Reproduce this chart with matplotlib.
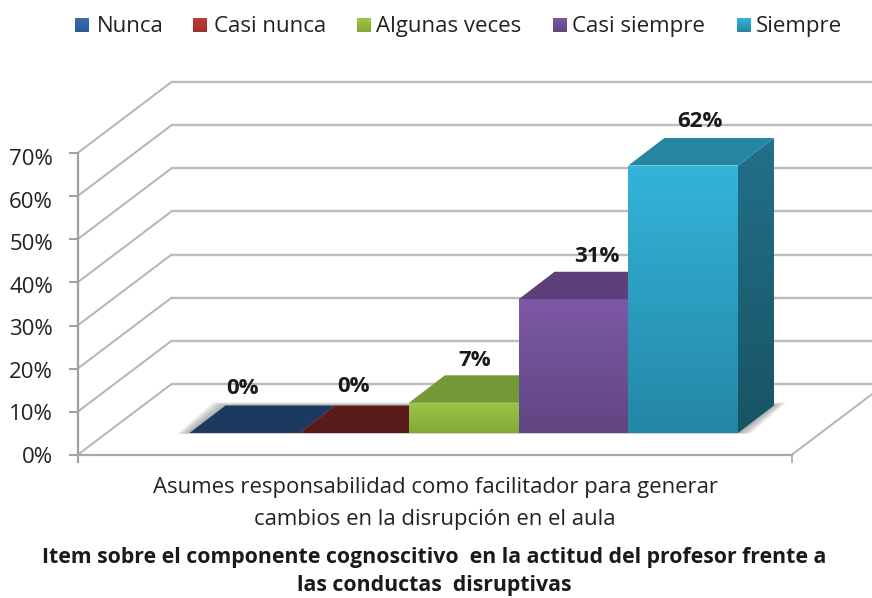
import numpy as np
import matplotlib
matplotlib.use('Agg')
import matplotlib.pyplot as plt
from matplotlib.colors import LinearSegmentedColormap
from matplotlib.patches import Polygon

categories = ['Nunca', 'Casi nunca', 'Algunas veces', 'Casi siempre', 'Siempre']
values = [0, 0, 7, 31, 62]
value_labels = ['0%', '0%', '7%', '31%', '62%']
y_ticks = [0, 10, 20, 30, 40, 50, 60, 70]
cat_lines = ['Asumes responsabilidad como facilitador para generar',
             'cambios en la disrupción en el aula']
title_lines = ['Item sobre el componente cognoscitivo  en la actitud del profesor frente a',
               'las conductas  disruptivas']

front_top = ['#3a6db0', '#c0393a', '#9bc645', '#7d59a6', '#33b4d9']
front_bot = ['#2c5a94', '#a02e2c', '#85a83a', '#614681', '#2487a6']
top_col = ['#1c3a5f', '#5a1c1a', '#739a36', '#5d4079', '#2586a3']
side_top = ['#1c3a5f', '#5a1c1a', '#64852f', '#503768', '#22708a']
side_bot = ['#16304f', '#4a1614', '#557228', '#402c54', '#185464']

# one bar is 109.7 px wide, 1% is 4.314 px high
px_x = 109.7
px_y = 4.314
x0 = 189.5
wall_l, wall_r = -112 / px_x, 602 / px_x
floor_y = -22 / px_y
back_dx, back_dy = 94 / px_x, 71 / px_y
bar_dx, bar_dy = 36 / px_x, 27.5 / px_y

plt.rcParams['font.family'] = ['Open Sans', 'DejaVu Sans']
fig = plt.figure(figsize=(8.72, 5.98), dpi=100)
ax = fig.add_axes([0, 0, 1, 1])
ax.axis('off')


def grad(pts, c1, c2, z=3):
    poly = Polygon(pts, closed=True, fc='none', ec='none', zorder=z)
    ax.add_patch(poly)
    xs = [p[0] for p in pts]
    ys = [p[1] for p in pts]
    cmap = LinearSegmentedColormap.from_list('g', [c1, c2])
    im = ax.imshow(np.linspace(0, 1, 64)[:, None], cmap=cmap, aspect='auto', zorder=z,
                   extent=(min(xs), max(xs), min(ys), max(ys)), origin='upper')
    im.set_clip_path(poly)


# walls and gridlines
for i, t in enumerate(y_ticks):
    y = floor_y + t
    ax.plot([wall_l, wall_l + back_dx], [y, y + back_dy], color='#b4b4b4', lw=1.4, zorder=1)
    ax.plot([wall_l + back_dx, wall_r + back_dx], [y + back_dy, y + back_dy],
            color='#bcbcbc', lw=1.7, zorder=1)
    ax.plot([wall_l - 8 / px_x, wall_l], [y, y], color='#a0a0a0', lw=1.4, zorder=2)
    ax.text((53 - x0) / px_x, floor_y + t * 0.985 - 0.5, '%d%%' % t, ha='right', va='center',
            fontsize=16, color='#222222')
ax.plot([wall_r, wall_r + back_dx], [floor_y, floor_y + back_dy], color='#b4b4b4', lw=1.4, zorder=1)
ax.plot([wall_l, wall_l], [floor_y - 7 / px_y, floor_y + 70], color='#a0a0a0', lw=1.6, zorder=2)
ax.plot([wall_l, wall_r], [floor_y, floor_y], color='#a8a8a8', lw=1.6, zorder=2)
ax.plot([wall_r, wall_r], [floor_y - 7 / px_y, floor_y], color='#a8a8a8', lw=1.2, zorder=2)

# soft shadow on the floor
n = len(values)
for pad in [12, 9, 6, 3]:
    p = pad / px_x
    q = pad * 0.25 / px_y
    ax.add_patch(Polygon([(-p, -q * 0.3), (n + p, -q * 0.3), (n + bar_dx + p, bar_dy + q), (bar_dx - p, bar_dy + q)],
                         closed=True, fc='#606060', ec='none', alpha=0.14, zorder=2.5))

# bars
for i, v in enumerate(values):
    if v > 0:
        grad([(i, 0), (i + 1, 0), (i + 1, v), (i, v)], front_top[i], front_bot[i])
        grad([(i + 1, 0), (i + 1 + bar_dx, bar_dy), (i + 1 + bar_dx, v + bar_dy), (i + 1, v)],
             side_top[i], side_bot[i])
    ax.add_patch(Polygon([(i, v), (i + 1, v), (i + 1 + bar_dx, v + bar_dy), (i + bar_dx, v + bar_dy)],
                         closed=True, fc=top_col[i], ec='none', zorder=3))

label_dx = [-2, -1, 11, 23, 17]
label_dy = [17, 19, 15, 15, 17]
for i, v in enumerate(values):
    ax.text(i + 0.5 + label_dx[i] / px_x, v + bar_dy + label_dy[i] / px_y, value_labels[i],
            ha='center', va='center', fontsize=16, fontweight='bold', color='#1a1a1a', zorder=5)

# legend
swatch_x = [75, 193, 357, 553, 737]
text_x = [97, 214, 376, 572, 756]
for i, c in enumerate(categories):
    sx = (swatch_x[i] - x0) / px_x
    sy = (433 - 32) / px_y
    grad([(sx, sy), (sx + 14 / px_x, sy), (sx + 14 / px_x, sy + 14 / px_y), (sx, sy + 14 / px_y)],
         front_top[i], front_bot[i])
    ax.text((text_x[i] - x0) / px_x, (433 - 26.5) / px_y, c, ha='left', va='center',
            fontsize=16, color='#222222')

for line, py in zip(cat_lines, [488, 519]):
    ax.text((435 - x0) / px_x, (433 - py) / px_y, line, ha='center', va='center',
            fontsize=15.9, color='#222222')
for line, py in zip(title_lines, [558, 586]):
    ax.text((434 - x0) / px_x, (433 - py) / px_y, line, ha='center', va='center',
            fontsize=15.3, fontweight='bold', color='#1a1a1a')

ax.set_xlim(-x0 / px_x, (872 - x0) / px_x)
ax.set_ylim(-165 / px_y, 433 / px_y)
fig.savefig('out.png', dpi=100)
